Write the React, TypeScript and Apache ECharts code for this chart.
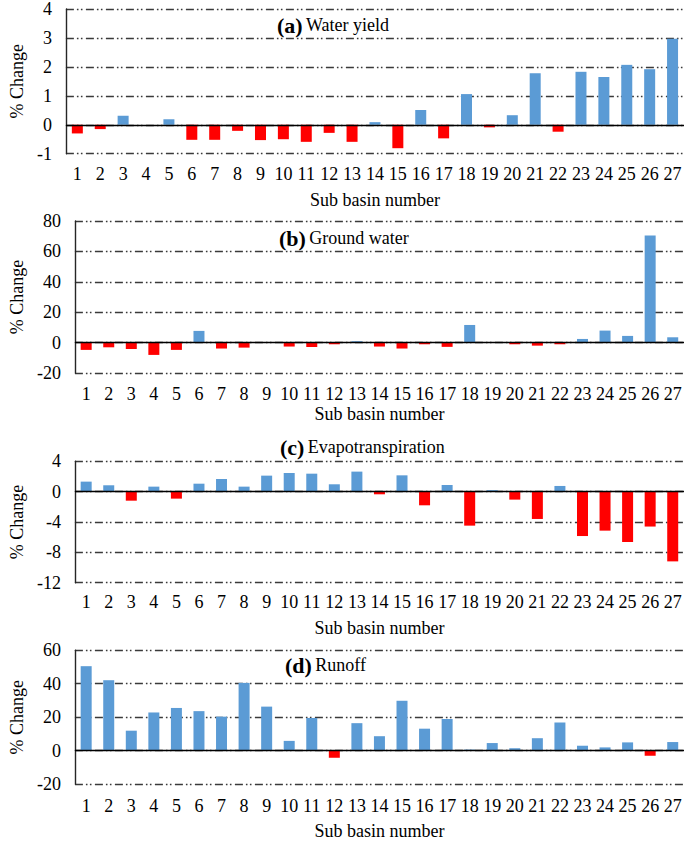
import React, { useEffect, useRef } from "react";
import * as echarts from "echarts";

const subBasins = Array.from({ length: 27 }, (_, i) => String(i + 1));

const waterYield = [
  -0.3, -0.15, 0.31, 0, 0.19, -0.52, -0.52, -0.21, -0.53, -0.5, -0.59, -0.28, -0.59,
  0.09, -0.81, 0.51, -0.47, 1.06, -0.09, 0.33, 1.78, -0.24, 1.83, 1.65, 2.07, 1.92, 2.97,
];
const groundWater = [
  -4.8, -3.1, -4.2, -8.1, -4.8, 7.7, -3.9, -3.3, 0, -2.6, -2.9, -1.1, 0.9,
  -2.6, -3.9, -1.1, -2.8, 11.6, 0, -1.1, -2.0, -1.1, 2.4, 7.9, 4.4, 70.5, 3.5,
];
const evapotranspiration = [
  1.32, 0.84, -1.19, 0.66, -0.92, 1.05, 1.67, 0.66, 2.11, 2.46, 2.37, 0.97, 2.64,
  -0.35, 2.15, -1.8, 0.88, -4.48, 0.2, -1.05, -3.6, 0.75, -5.85, -5.14, -6.64, -4.6, -9.19,
];
const runoff = [
  50.5, 42.1, 11.9, 22.8, 25.5, 23.6, 20.3, 40.5, 26.3, 5.8, 19.5, -4.3, 16.4,
  8.6, 29.8, 13.1, 18.9, 0.6, 4.5, 1.4, 7.4, 16.8, 2.9, 1.9, 4.9, -3.1, 5.1,
];

const panelLetters = ["(a)", "(b)", "(c)", "(d)"];
const panelNames = ["Water yield", "Ground water", "Evapotranspiration", "Runoff"];
const yMins = [-1, -20, -12, -20];
const yMaxs = [4, 80, 4, 60];
const yIntervals = [1, 20, 4, 20];
const xAxisName = "Sub basin number";
const yAxisName = "% Change";

const FONT = "Liberation Serif";
const FS = 18;
const BLUE = "#5B9BD5";
const RED = "#FF0000";

export default function App() {
  const ref = useRef<HTMLDivElement>(null);

  useEffect(() => {
    if (!ref.current) return;
    const chart = echarts.init(ref.current, null, { renderer: "svg" });
    const seriesData = [waterYield, groundWater, evapotranspiration, runoff];

    const layout = [
      { left: 58, top: 7.3, height: 146.4, labelMargin: 11, nameGap: 37, titleX: 277, titleY: 26 },
      { left: 55, top: 221, height: 152, labelMargin: 12, nameGap: 32, titleX: 279, titleY: 239 },
      { left: 52, top: 461.3, height: 121.4, labelMargin: 10, nameGap: 36, titleX: 280, titleY: 448 },
      { left: 54, top: 650.3, height: 137, labelMargin: 13, nameGap: 38, titleX: 285, titleY: 666 },
    ];

    const grid = layout.map((l) => ({ left: l.left, right: 1, top: l.top, height: l.height }));

    const xAxis = layout.map((l, i) => ({
      type: "category",
      gridIndex: i,
      data: subBasins,
      boundaryGap: true,
      axisLine: { show: false },
      axisTick: { show: false },
      axisLabel: {
        interval: 0,
        margin: l.labelMargin,
        fontFamily: FONT,
        fontSize: FS,
        color: "#000",
      },
      name: xAxisName,
      nameLocation: "middle",
      nameGap: l.nameGap,
      nameTextStyle: { fontFamily: FONT, fontSize: FS, color: "#000" },
    }));

    const yAxis = layout.map((l, i) => ({
      type: "value",
      gridIndex: i,
      min: yMins[i],
      max: yMaxs[i],
      interval: yIntervals[i],
      axisLine: { show: true, lineStyle: { color: "#262626", width: 1.4 } },
      axisTick: { show: false },
      axisLabel: {
        margin: 14,
        fontFamily: FONT,
        fontSize: FS,
        color: "#000",
      },
      splitLine: {
        show: true,
        lineStyle: { color: "#3a3a3a", width: 1.3, type: [8, 3, 1.6, 2.4, 1.6, 3.4] },
      },
      name: yAxisName,
      nameLocation: "middle",
      nameGap: 37,
      nameRotate: 90,
      nameTextStyle: { fontFamily: FONT, fontSize: FS, color: "#000" },
    }));

    const series = seriesData.map((d, i) => ({
      type: "bar",
      xAxisIndex: i,
      yAxisIndex: i,
      data: d,
      barWidth: 11,
      itemStyle: {
        color: (p: any) => (p.value >= 0 ? BLUE : RED),
      },
      markLine: {
        silent: true,
        symbol: "none",
        label: { show: false },
        lineStyle: { color: "#000", width: 1.4, type: "solid" },
        data: [{ yAxis: 0 }],
      },
    }));

    const graphic = layout.map((l, i) => ({
      type: "text",
      left: l.titleX,
      top: l.titleY - 12,
      style: {
        text: `{b|${panelLetters[i]}} {n|${panelNames[i]}}`,
        rich: {
          b: { fontFamily: FONT, fontSize: 22, fontWeight: "bold", fill: "#000" },
          n: { fontFamily: FONT, fontSize: FS, fill: "#000" },
        },
      },
    }));

    chart.setOption({
      animation: false,
      backgroundColor: "#fff",
      grid,
      xAxis,
      yAxis,
      series,
      graphic,
    } as any);

    return () => chart.dispose();
  }, []);

  return (
    <div
      ref={ref}
      style={{ position: "fixed", left: 0, top: 0, width: 685, height: 841 }}
    />
  );
}
